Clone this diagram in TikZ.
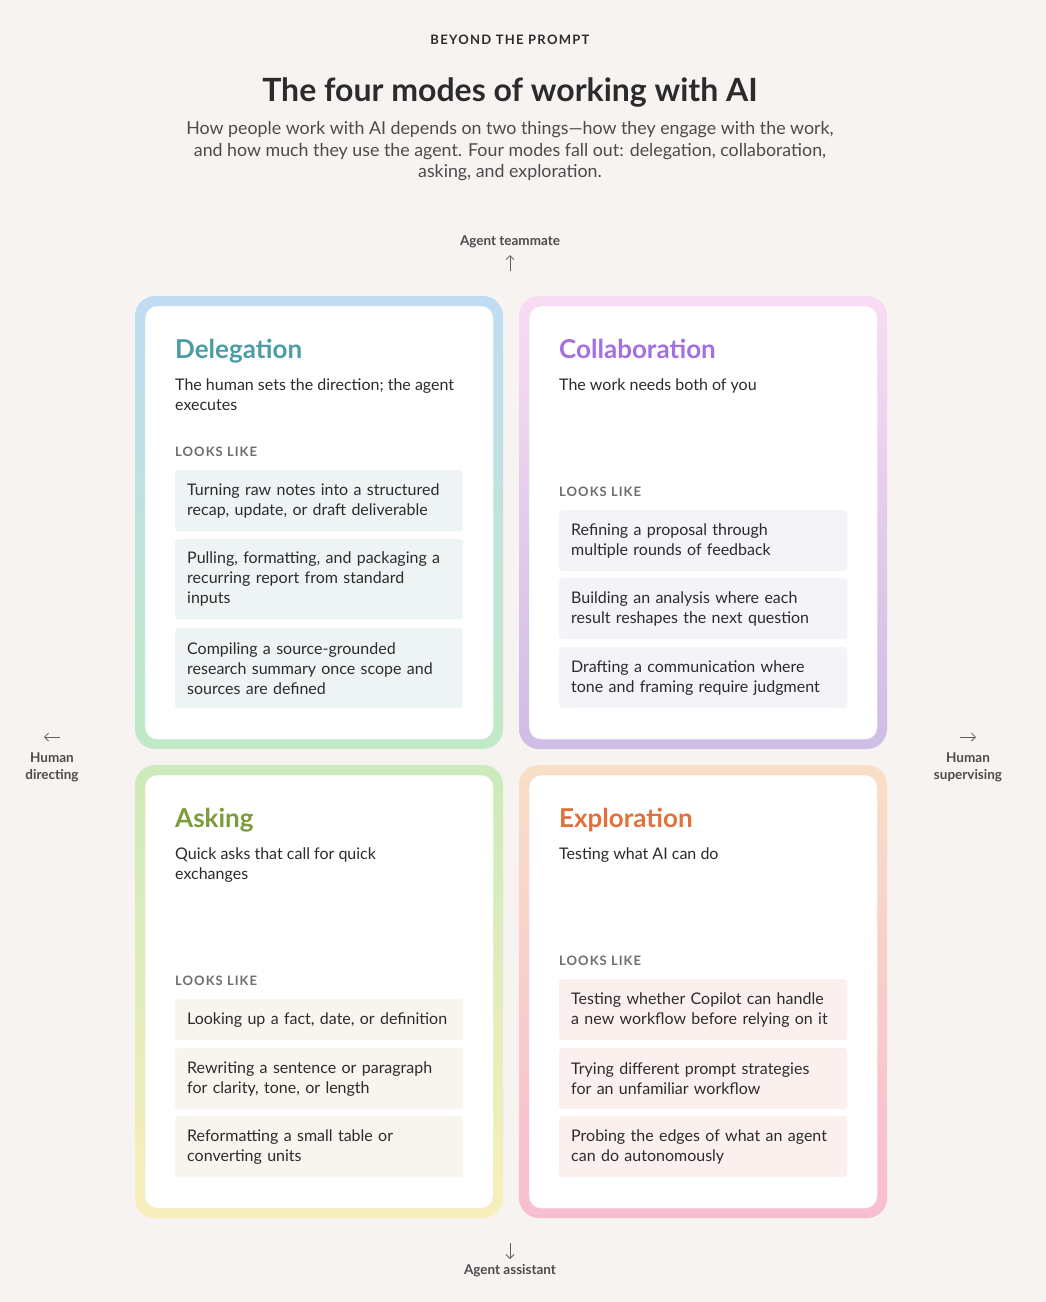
\documentclass[tikz,border=0pt]{standalone}
\usepackage{fontspec}
\setmainfont{Lato}
\usetikzlibrary{positioning,arrows.meta}
\definecolor{bg}{HTML}{F7F3F0}
\definecolor{ink}{HTML}{2B2B2E}
\definecolor{graytxt}{HTML}{6E6E70}
\definecolor{delc}{HTML}{4A9DA6}
\definecolor{colc}{HTML}{A46FE3}
\definecolor{askc}{HTML}{7C9B3A}
\definecolor{expc}{HTML}{E2703A}
\definecolor{delfill}{HTML}{EEF4F3}
\definecolor{colfill}{HTML}{F4F3F8}
\definecolor{askfill}{HTML}{F8F5EE}
\definecolor{expfill}{HTML}{FBF0EE}
\tikzset{
  card/.style={fill=white, draw=black!8, rounded corners=12pt, anchor=north west,
    minimum width=348pt, minimum height=433pt, inner sep=0pt},
  glow/.style={rounded corners=20pt, opacity=0.22},
  modetitle/.style={anchor=base west, font=\fontsize{26}{30}\selectfont\bfseries, inner sep=0pt},
  desc/.style={anchor=north west, font=\fontsize{16}{20}\selectfont, text=ink, align=left, inner sep=0pt},
  lookslike/.style={anchor=base west, font=\fontsize{13}{15}\selectfont\bfseries\addfontfeatures{LetterSpace=8}, text=graytxt, inner sep=0pt},
  item/.style={anchor=north west, rounded corners=3pt, text width=264pt, inner xsep=12pt,
    inner ysep=0pt, align=left, font=\fontsize{16}{20}\selectfont, text=ink},
  axis/.style={font=\fontsize{13.5}{17}\selectfont\bfseries, text=ink!85, align=center, inner sep=0pt},
  arr/.style={-{Straight Barb[length=4pt,width=8pt]}, thick, ink!75}
}
\begin{document}
\begin{tikzpicture}[x=1pt,y=-1pt]
\fill[bg] (0,0) rectangle (1046,1302);
\useasboundingbox (0,0) rectangle (1046,1302);

% header
\node[anchor=base, font=\fontsize{13}{15}\selectfont\bfseries\addfontfeatures{LetterSpace=10}, text=ink] (kicker) at (510,44) {BEYOND THE PROMPT};
\node[anchor=base, font=\fontsize{32}{36}\selectfont\bfseries, text=ink] (title) at (510,101) {The four modes of working with AI};
\node[anchor=north, align=center, font=\fontsize{17.8}{21.5}\selectfont, text=ink!85] (sub) at (510,118)
  {How people work with AI depends on two things---how they engage with the work,\\and how much they use the agent. Four modes fall out: delegation, collaboration,\\asking, and exploration.};

% glows
\shade[glow, top color=blue!45!cyan, bottom color=green!60!teal] (135,296) rectangle (503,749);
\shade[glow, top color=magenta!45, bottom color=blue!50!violet] (519,296) rectangle (887,749);
\shade[glow, top color=green!60!olive, bottom color=yellow!80!orange] (135,765) rectangle (503,1218);
\shade[glow, top color=orange!80, bottom color=red!60!magenta] (519,765) rectangle (887,1218);

% cards
\node[card] (del) at (145,306) {};
\node[card] (col) at (529,306) {};
\node[card] (ask) at (145,775) {};
\node[card] (exp) at (529,775) {};

% Delegation
\node[modetitle, text=delc] (delT) at (175,358) {Delegation};
\node[desc] (delD) at (175,379) {The human sets the direction; the agent\\executes};
\node[lookslike] (delL) at (175,456) {LOOKS LIKE};
\node[item, fill=delfill, minimum height=61pt] (del1) at (175,470) {Turning raw notes into a structured\\recap, update, or draft deliverable};
\node[item, fill=delfill, minimum height=80pt] (del2) at (175,539) {Pulling, formatting, and packaging a\\recurring report from standard\\inputs};
\node[item, fill=delfill, minimum height=80pt] (del3) at (175,628) {Compiling a source-grounded\\research summary once scope and\\sources are defined};

% Collaboration
\node[modetitle, text=colc] (colT) at (559,358) {Collaboration};
\node[desc] (colD) at (559,379) {The work needs both of you};
\node[lookslike] (colL) at (559,496) {LOOKS LIKE};
\node[item, fill=colfill, minimum height=61pt] (col1) at (559,510) {Refining a proposal through\\multiple rounds of feedback};
\node[item, fill=colfill, minimum height=61pt] (col2) at (559,578) {Building an analysis where each\\result reshapes the next question};
\node[item, fill=colfill, minimum height=61pt] (col3) at (559,647) {Drafting a communication where\\tone and framing require judgment};

% Asking
\node[modetitle, text=askc] (askT) at (175,827) {Asking};
\node[desc] (askD) at (175,848) {Quick asks that call for quick\\exchanges};
\node[lookslike] (askL) at (175,985) {LOOKS LIKE};
\node[item, fill=askfill, minimum height=41pt] (ask1) at (175,999) {Looking up a fact, date, or definition};
\node[item, fill=askfill, minimum height=61pt] (ask2) at (175,1048) {Rewriting a sentence or paragraph\\for clarity, tone, or length};
\node[item, fill=askfill, minimum height=61pt] (ask3) at (175,1116) {Reformatting a small table or\\converting units};

% Exploration
\node[modetitle, text=expc] (expT) at (559,827) {Exploration};
\node[desc] (expD) at (559,848) {Testing what AI can do};
\node[lookslike] (expL) at (559,965) {LOOKS LIKE};
\node[item, fill=expfill, minimum height=61pt] (exp1) at (559,979) {Testing whether Copilot can handle\\a new workflow before relying on it};
\node[item, fill=expfill, minimum height=61pt] (exp2) at (559,1048) {Trying different prompt strategies\\for an unfamiliar workflow};
\node[item, fill=expfill, minimum height=61pt] (exp3) at (559,1116) {Probing the edges of what an agent\\can do autonomously};

% axes
\node[axis] (top) at (510,242) {Agent teammate};
\coordinate (topA) at (510,271);
\coordinate (topB) at (510,255);
\draw[arr] (topA) -- (topB);
\node[axis] (bot) at (510,1271) {Agent assistant};
\coordinate (botA) at (510,1243);
\coordinate (botB) at (510,1259);
\draw[arr] (botA) -- (botB);
\coordinate (lA) at (60,737);
\coordinate (lB) at (44,737);
\draw[arr] (lA) -- (lB);
\node[axis, below=16pt of lB, xshift=8pt] (left) {Human\\directing};
\coordinate (rA) at (960,737);
\coordinate (rB) at (976,737);
\draw[arr] (rA) -- (rB);
\node[axis, below=16pt of rB, xshift=-8pt] (right) {Human\\supervising};
\end{tikzpicture}
\end{document}
